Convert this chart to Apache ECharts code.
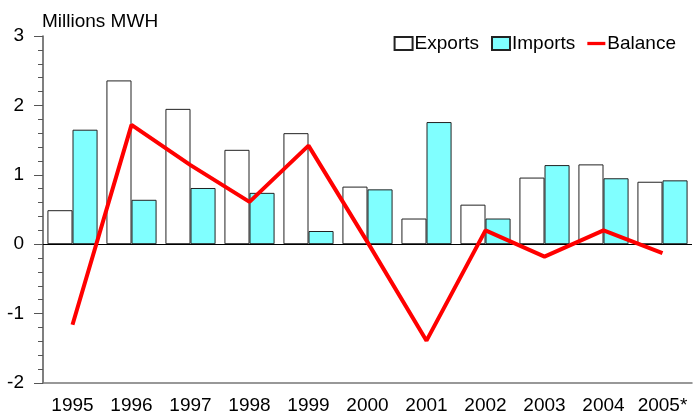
<!DOCTYPE html>
<html>
<head>
<meta charset="utf-8">
<script src="https://cdn.jsdelivr.net/npm/echarts@6/dist/echarts.min.js"></script>
<style>
  html, body { margin: 0; padding: 0; background: #fff; }
  #chart { width: 695px; height: 415px; }
</style>
</head>
<body>
<div id="chart"></div>
<script>
var years = ['1995', '1996', '1997', '1998', '1999', '2000', '2001', '2002', '2003', '2004', '2005*'];
var exportsData = [0.49, 2.36, 1.95, 1.36, 1.60, 0.83, 0.37, 0.57, 0.96, 1.15, 0.90];
var importsData = [1.65, 0.64, 0.81, 0.74, 0.19, 0.79, 1.76, 0.37, 1.14, 0.95, 0.92];
var balanceData = [-1.16, 1.72, 1.14, 0.61, 1.42, 0.03, -1.39, 0.20, -0.18, 0.20, -0.13];

var chart = echarts.init(document.getElementById('chart'));

var option = {
  animation: false,
  textStyle: { fontFamily: 'Liberation Sans, Arial, sans-serif' },
  grid: { left: 43, right: 3, top: 36, bottom: 29, containLabel: false },
  legend: {
    right: 14,
    top: 29,
    itemGap: 12,
    itemWidth: 18,
    itemHeight: 13,
    textStyle: { fontSize: 19, color: '#000', padding: [0, 0, 0, -3] },
    data: [
      { name: 'Exports', icon: 'rect' },
      { name: 'Imports', icon: 'rect' },
      { name: 'Balance', icon: 'path://M0,0 L22,0 L22,4 L0,4 Z' }
    ]
  },
  xAxis: {
    type: 'category',
    data: years,
    axisLine: { onZero: false, lineStyle: { color: '#777', width: 1.5 } },
    axisTick: { show: false },
    axisLabel: { fontSize: 19, color: '#000', margin: 13, interval: 0, hideOverlap: false }
  },
  yAxis: {
    type: 'value',
    name: 'Millions MWH',
    nameLocation: 'end',
    nameGap: 5,
    nameTextStyle: { fontSize: 19, color: '#000', align: 'left', padding: [0, 0, 0, -1] },
    min: -2,
    max: 3,
    interval: 1,
    splitLine: { show: false },
    axisLine: { show: true, lineStyle: { color: '#555', width: 1.5 } },
    axisTick: { show: true, inside: false, length: 9, lineStyle: { color: '#555' } },
    minorTick: { show: true, splitNumber: 5, length: 5, lineStyle: { color: '#555' } },
    axisLabel: { fontSize: 19, color: '#000', margin: 19 }
  },
  series: [
    {
      name: 'Exports',
      type: 'bar',
      data: exportsData,
      barGap: '0%',
      barCategoryGap: '15%',
      itemStyle: { color: '#fff', borderColor: '#222', borderWidth: 1 },
      markLine: {
        silent: true,
        symbol: 'none',
        label: { show: false },
        lineStyle: { color: '#000', width: 1, type: 'solid' },
        data: [{ yAxis: 0 }]
      }
    },
    {
      name: 'Imports',
      type: 'bar',
      data: importsData,
      itemStyle: { color: '#80FFFF', borderColor: '#222', borderWidth: 1 }
    },
    {
      name: 'Balance',
      type: 'line',
      data: balanceData,
      symbol: 'none',
      lineStyle: { color: '#FF0000', width: 4 },
      itemStyle: { color: '#FF0000' },
      z: 5
    }
  ]
};

chart.setOption(option);
</script>
</body>
</html>
